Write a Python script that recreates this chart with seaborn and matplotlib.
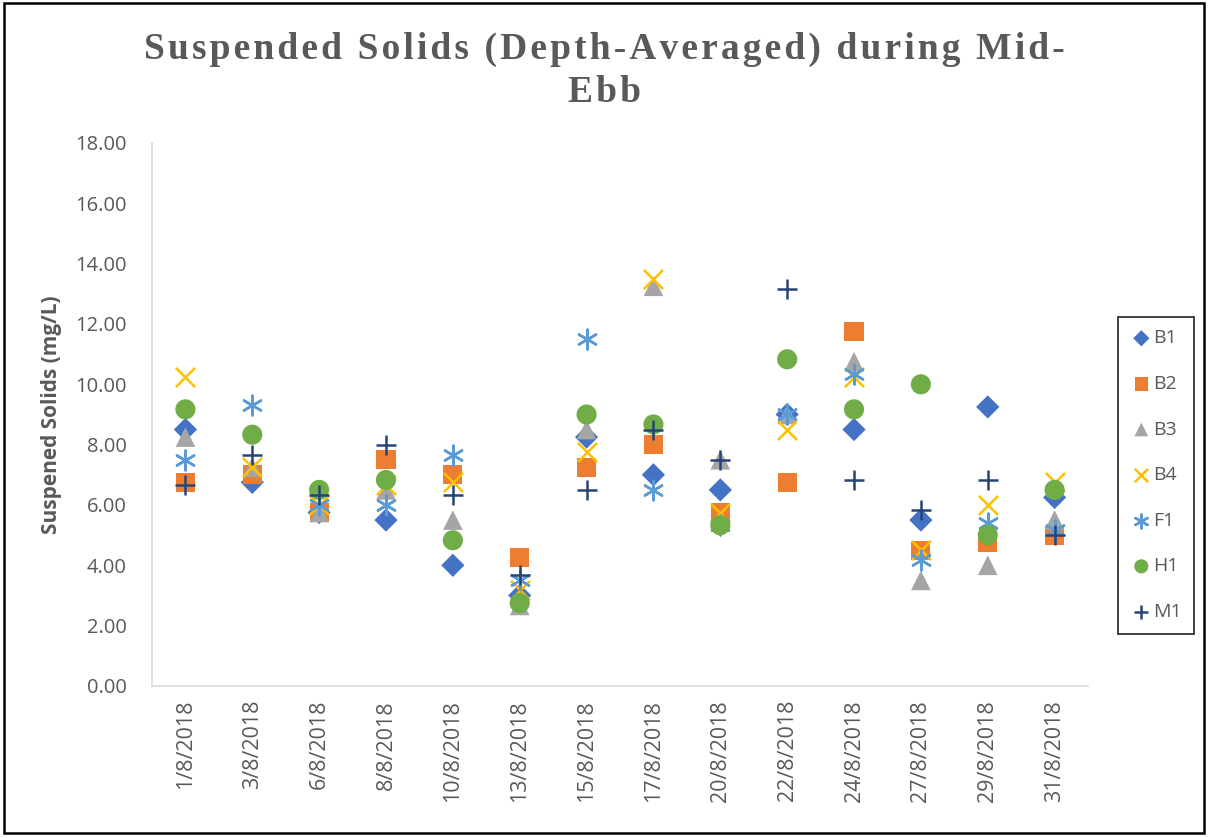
import pandas as pd
import matplotlib
matplotlib.use("Agg")
import matplotlib.pyplot as plt
import seaborn as sns
from matplotlib.patches import Rectangle

# sampling dates (Aug 2018) and depth-averaged suspended solids (mg/L) per station
dates = ['1/8/2018', '3/8/2018', '6/8/2018', '8/8/2018', '10/8/2018', '13/8/2018', '15/8/2018',
         '17/8/2018', '20/8/2018', '22/8/2018', '24/8/2018', '27/8/2018', '29/8/2018', '31/8/2018']

B1 = [8.50, 6.75, 5.75, 5.50, 4.00, 3.00, 8.25, 7.00, 6.50, 9.00, 8.50, 5.50, 9.25, 6.25]
B2 = [6.75, 7.00, 5.75, 7.50, 7.00, 4.25, 7.25, 8.00, 5.75, 6.75, 11.75, 4.50, 4.75, 5.00]
B3 = [8.25, 7.25, 5.75, 6.50, 5.50, 2.67, 8.50, 13.25, 7.50, 9.00, 10.75, 3.50, 4.00, 5.50]
B4 = [10.25, 7.25, 6.00, 6.67, 6.75, 3.17, 7.75, 13.50, 5.75, 8.50, 10.25, 4.50, 6.00, 6.75]
F1 = [7.50, 9.33, 6.00, 6.00, 7.67, 3.50, 11.50, 6.50, 5.33, 9.00, 10.33, 4.17, 5.40, 5.17]
H1 = [9.17, 8.33, 6.50, 6.83, 4.83, 2.75, 9.00, 8.67, 5.33, 10.83, 9.17, 10.00, 5.00, 6.50]
M1 = [6.67, 7.67, 6.33, 8.00, 6.33, 3.67, 6.50, 8.50, 7.50, 13.17, 6.83, 5.83, 6.83, 5.00]

stations = {'B1': B1, 'B2': B2, 'B3': B3, 'B4': B4, 'F1': F1, 'H1': H1, 'M1': M1}

# long-form table for seaborn
rows = []
for name, vals in stations.items():
    for d, v in zip(dates, vals):
        rows.append({'Date': d, 'Station': name, 'SS': v})
df = pd.DataFrame(rows)

# excel-ish marker styles
styles = {
    'B1': dict(marker='D', color='#4472C4', s=140, filled=True),
    'B2': dict(marker='s', color='#ED7D31', s=190, filled=True),
    'B3': dict(marker='^', color='#A5A5A5', s=200, filled=True),
    'B4': dict(marker='x', color='#FFC000', s=190, filled=False),
    'F1': dict(marker=(6, 2, 0), color='#5B9BD5', s=200, filled=False),
    'H1': dict(marker='o', color='#70AD47', s=210, filled=True),
    'M1': dict(marker='+', color='#264478', s=190, filled=False),
}

sns.set_style("white")
plt.rcParams['font.family'] = ['Open Sans', 'DejaVu Sans']

fig = plt.figure(figsize=(12.08, 8.38), dpi=100)
ax = fig.add_axes([0.1258, 0.1814, 0.7749, 0.648])

for name in stations:
    st = styles[name]
    sub = df[df['Station'] == name]
    if st['filled']:
        sns.scatterplot(data=sub, x='Date', y='SS', marker=st['marker'], color=st['color'],
                        s=st['s'], edgecolor='none', label=name, ax=ax)
    else:
        sns.scatterplot(data=sub, x='Date', y='SS', marker=st['marker'], color=st['color'],
                        s=st['s'], edgecolor=None, linewidth=1.8, label=name, ax=ax)

ax.set_xlim(-0.5, len(dates) - 0.5)
ax.set_ylim(0, 18)
ax.set_yticks(range(0, 19, 2))
ax.set_yticklabels([f"{v:.2f}" for v in range(0, 19, 2)])
ax.tick_params(axis='y', labelsize=14.5, labelcolor='#595959', length=0, pad=18)
ax.tick_params(axis='x', labelsize=15.5, labelcolor='#595959', length=0, rotation=90, pad=10)
ax.set_xlabel('')
ax.set_ylabel('Suspened Solids (mg/L)', fontsize=15, fontweight='bold', color='#595959', labelpad=10)

for side in ['top', 'right']:
    ax.spines[side].set_visible(False)
for side in ['left', 'bottom']:
    ax.spines[side].set_color('#D9D9D9')
    ax.spines[side].set_linewidth(1.2)

leg = ax.legend(loc='upper left', bbox_to_anchor=(1.032, 0.68), frameon=True, fancybox=False,
                edgecolor='black', fontsize=14, labelspacing=1.42, handletextpad=0.05,
                borderpad=0.65, markerscale=0.7, borderaxespad=0, handlelength=1.1)
leg.get_frame().set_linewidth(1.3)
for t in leg.get_texts():
    t.set_color('#595959')

# title with a little letter spacing (hair spaces)
hair = '\u200a'
line1 = hair.join('Suspended Solids (Depth-Averaged) during Mid-')
line2 = hair.join('Ebb')
fig.text(0.5, 0.962, line1 + '\n' + line2, ha='center', va='top',
         fontsize=27, fontweight='bold', color='#595959',
         family=['Liberation Serif', 'DejaVu Serif'], linespacing=1.3)

# outer chart border
fig.patches.append(Rectangle((0.003, 0.006), 0.994, 0.99, transform=fig.transFigure,
                             fill=False, edgecolor='black', linewidth=1.8))

fig.savefig('out.png', dpi=100)
